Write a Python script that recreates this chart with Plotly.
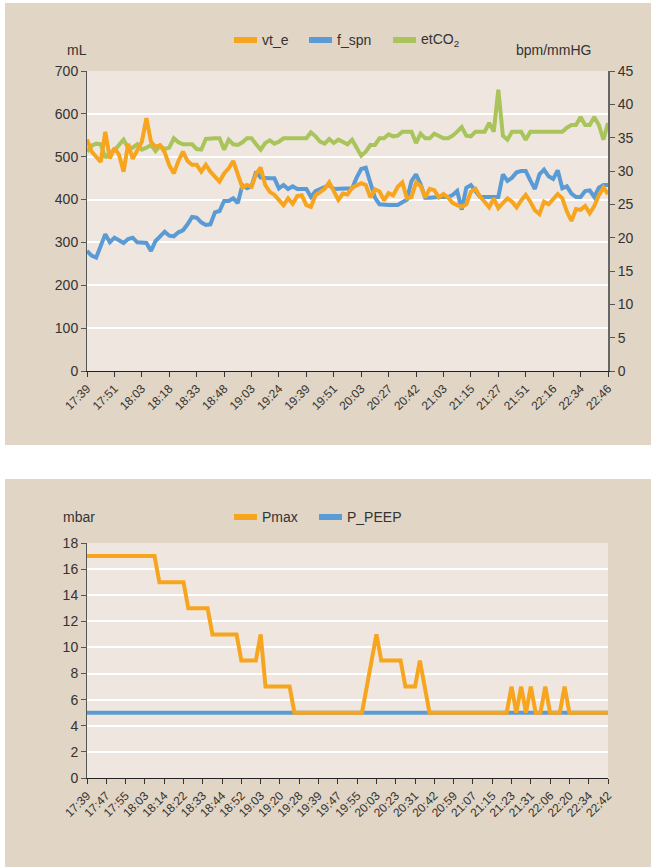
import plotly.graph_objects as go

W, H = 651, 867

# ---------------- data: top chart ----------------
top_tick_labels = ["17:39", "17:51", "18:03", "18:18", "18:33", "18:48", "19:03",
                   "19:24", "19:39", "19:51", "20:03", "20:27", "20:42", "21:03",
                   "21:15", "21:27", "21:51", "22:16", "22:34", "22:46"]
top_label_every = 6

vt_e = [540, 512, 500, 488, 558, 496, 520, 505, 465, 530,
        495, 516, 535, 590, 535, 523, 527, 510, 480, 461,
        490, 512, 490, 481, 481, 465, 481, 465, 452, 442,
        461, 473, 490, 455, 428, 434, 430, 460, 475, 434,
        418, 411, 398, 387, 403, 390, 408, 410, 387, 383,
        410, 418, 425, 440, 420, 399, 414, 412, 428, 434,
        438, 434, 405, 424, 419, 398, 415, 410, 430, 440,
        403, 406, 440, 432, 405, 425, 422, 405, 413, 405,
        392, 387, 383, 389, 418, 425, 407, 395, 382, 403,
        380, 392, 403, 395, 382, 398, 411, 395, 375, 366,
        395, 389, 400, 413, 403, 372, 350, 378, 376, 385,
        368, 385, 410, 428, 413]

f_spn = [18, 17.3, 17, 18.6, 20.5, 19.3, 20, 19.6, 19.2, 19.8,
         20, 19.3, 19.2, 19.2, 18, 19.5, 20.2, 20.9, 20.3, 20.2,
         20.8, 21.1, 22, 23.1, 23, 22.3, 21.9, 22, 23.8, 24,
         25.5, 25.5, 25.9, 25.2, 27.9, 27.4, 27.7, 29.9, 29, 28.9,
         28.9, 28.9, 27.4, 27.9, 27.3, 27.7, 27.3, 27.3, 27.3, 26.1,
         27, 27.3, 27.6, 27.9, 27.3, 27.3, 27.3, 27.3, 27.4, 29,
         30.3, 30.5, 28, 26, 25, 24.9, 24.9, 24.9, 24.9, 25.3,
         25.7, 28.5, 29.5, 28, 26, 26, 26.1, 26.1, 26.1, 26.1,
         26.4, 27, 24.2, 27.5, 27.9, 27, 26.1, 26.1, 26.1, 26.1,
         26.1, 29.5, 28.5, 29, 29.8, 30, 30, 28.6, 27.3, 29.5,
         30.2, 29.2, 28.8, 30.1, 27.4, 27.7, 26.6, 26.1, 26.1, 27,
         27.1, 26.1, 27.5, 27.9, 27.9]

etco2 = [32.9, 33.8, 34.1, 34, 32, 32.8, 33.1, 33.8, 34.7, 33.5,
         33.5, 34, 33.2, 33.5, 33.9, 33, 33.8, 33.3, 33.5, 34.9,
         34.3, 34, 34, 34, 33.3, 33.2, 34.8, 34.9, 34.9, 34.9,
         33.2, 34.7, 34, 33.9, 34.3, 34.9, 34.9, 34, 33.2, 34.2,
         34.6, 34.1, 34.4, 34.9, 34.9, 34.9, 34.9, 34.9, 34.9, 35.8,
         35.2, 34.4, 34.1, 34.8, 34.2, 34.7, 34.4, 34, 34.7, 33.5,
         32.3, 32.9, 33.9, 33.9, 34.9, 34.9, 35.5, 35.2, 35.3, 35.9,
         35.9, 35.9, 34.2, 35.6, 34.9, 34.9, 35.6, 35.2, 34.9, 34.9,
         35.3, 35.9, 36.6, 35.3, 35.2, 35.9, 35.9, 35.9, 37.2, 35.9,
         42.2, 35.3, 34.7, 35.9, 35.9, 35.9, 34.7, 35.9, 35.9, 35.9,
         35.9, 35.9, 35.9, 35.9, 35.9, 36.5, 36.9, 36.9, 38.1, 36.9,
         36.9, 38.1, 36.9, 34.7, 37.2]

# ---------------- data: bottom chart ----------------
bottom_tick_labels = ["17:39", "17:47", "17:55", "18:03", "18:14", "18:22", "18:33",
                      "18:44", "18:52", "19:03", "19:20", "19:28", "19:39", "19:47",
                      "19:55", "20:03", "20:23", "20:31", "20:42", "20:59", "21:07",
                      "21:15", "21:23", "21:31", "22:06", "22:20", "22:34", "22:42"]
bottom_label_every = 4

pmax = [17, 17, 17, 17, 17, 17, 17, 17, 17, 17, 17, 17, 17, 17, 17,
        15, 15, 15, 15, 15, 15,
        13, 13, 13, 13, 13,
        11, 11, 11, 11, 11, 11,
        9, 9, 9, 9,
        11,
        7, 7, 7, 7, 7, 7,
        5, 5, 5, 5, 5, 5, 5, 5, 5, 5, 5, 5, 5, 5, 5,
        7, 9, 11,
        9, 9, 9, 9, 9,
        7, 7, 7,
        9, 7,
        5, 5, 5, 5, 5, 5, 5, 5, 5, 5, 5, 5, 5, 5, 5, 5, 5,
        7, 5, 7, 5, 7, 5, 5, 7, 5, 5, 5, 7,
        5, 5, 5, 5, 5, 5, 5, 5, 5]

p_peep = [5, 5, 5, 5, 5, 5, 5, 5, 5, 5, 5, 5, 5, 5, 5, 5, 5, 5, 5, 5,
          5, 5, 5, 5, 5, 5, 5, 5, 5, 5, 5, 5, 5, 5, 5, 5, 5, 5, 5, 5,
          5, 5, 5, 5, 5, 5, 5, 5, 5, 5, 5, 5, 5, 5, 5, 5, 5, 5, 5, 5,
          5, 5, 5, 5, 5, 5, 5, 5, 5, 5, 5, 5, 5, 5, 5, 5, 5, 5, 5, 5,
          5, 5, 5, 5, 5, 5, 5, 5, 5, 5, 5, 5, 5, 5, 5, 5, 5, 5, 5, 5,
          5, 5, 5, 5, 5, 5, 5, 5, 5]

# ---------------- styling ----------------
ORANGE = "#F7A51F"
BLUE = "#5B9BD5"
GREEN = "#A8C45A"
PANEL = "#E1D5C5"
PLOTBG = "#EFE7DF"
TXT = "#333333"
FONT = "Liberation Sans, Arial, Helvetica, sans-serif"
LW = 4


def px(x):
    return x / W


def py(y):
    return 1 - y / H


x_top = list(range(len(vt_e)))
x_bot = list(range(len(pmax)))

fig = go.Figure()

# anchor trace for the main (left, mL) axis of the top chart: nothing visible
fig.add_trace(go.Scatter(x=[0], y=[0], mode="markers", marker=dict(opacity=0, size=1),
                         hoverinfo="skip", showlegend=False, xaxis="x", yaxis="y"))
# top chart (orange drawn last / on top)
fig.add_trace(go.Scatter(x=x_top, y=etco2, name="etCO2", mode="lines",
                         line=dict(color=GREEN, width=LW), xaxis="x", yaxis="y2"))
fig.add_trace(go.Scatter(x=x_top, y=f_spn, name="f_spn", mode="lines",
                         line=dict(color=BLUE, width=LW), xaxis="x", yaxis="y2"))
fig.add_trace(go.Scatter(x=x_top, y=vt_e, name="vt_e", mode="lines",
                         line=dict(color=ORANGE, width=LW), xaxis="x", yaxis="y3"))

# bottom chart
fig.add_trace(go.Scatter(x=x_bot, y=p_peep, name="P_PEEP", mode="lines",
                         line=dict(color=BLUE, width=LW), xaxis="x2", yaxis="y4"))
fig.add_trace(go.Scatter(x=x_bot, y=pmax, name="Pmax", mode="lines",
                         line=dict(color=ORANGE, width=LW), xaxis="x2", yaxis="y4"))

xdom = [px(87), px(608)]
top_dom = [py(371), py(71)]
bot_dom = [py(778), py(543)]

tickfont_y = dict(size=14, color=TXT, family=FONT)
tickfont_x = dict(size=12, color=TXT, family=FONT)

top_tickvals = [i * top_label_every for i in range(len(top_tick_labels))]
bot_tickvals = [i * bottom_label_every for i in range(len(bottom_tick_labels))]

fig.update_layout(
    width=W, height=H,
    margin=dict(l=0, r=0, t=0, b=0, pad=0, autoexpand=False),
    paper_bgcolor=PANEL,
    plot_bgcolor=PLOTBG,
    showlegend=False,
    font=dict(family=FONT, color=TXT, size=14),
    xaxis=dict(domain=xdom, anchor="y", range=[0, len(vt_e) - 1], automargin=False,
               tickmode="array", tickvals=top_tickvals, ticktext=top_tick_labels,
               tickangle=-45, ticks="outside", ticklen=5, tickcolor="#333",
               showline=True, linecolor="#222", linewidth=1,
               showgrid=False, zeroline=False, tickfont=tickfont_x),
    yaxis=dict(domain=top_dom, anchor="x", range=[0, 700], tick0=0, dtick=100,
               automargin=False,
               showgrid=True, gridcolor="white", gridwidth=2,
               ticks="outside", ticklen=5, tickcolor="#555",
               showline=True, linecolor="#555", linewidth=1,
               zeroline=False, tickfont=tickfont_y),
    yaxis2=dict(domain=top_dom, overlaying="y", side="right", anchor="x",
                range=[0, 45], tick0=0, dtick=5, automargin=False,
                showgrid=False, ticks="outside", ticklen=5, tickcolor="#555",
                showline=True, linecolor="#666", linewidth=2,
                zeroline=False, tickfont=tickfont_y),
    yaxis3=dict(domain=top_dom, overlaying="y", anchor="x", range=[0, 700],
                visible=False, automargin=False),
    xaxis2=dict(domain=xdom, anchor="y4", range=[0, len(pmax) - 1], automargin=False,
                tickmode="array", tickvals=bot_tickvals, ticktext=bottom_tick_labels,
                tickangle=-45, ticks="outside", ticklen=5, tickcolor="#333",
                showline=True, linecolor="#222", linewidth=1,
                showgrid=False, zeroline=False, tickfont=tickfont_x),
    yaxis4=dict(domain=bot_dom, anchor="x2", range=[0, 18], tick0=0, dtick=2,
                automargin=False,
                showgrid=True, gridcolor="white", gridwidth=2,
                ticks="outside", ticklen=5, tickcolor="#555",
                showline=True, linecolor="#555", linewidth=1,
                zeroline=False, tickfont=tickfont_y),
)

shapes = [
    # white page strips around the two beige panels
    dict(type="rect", xref="paper", yref="paper", x0=0, x1=1, y0=py(3), y1=1,
         fillcolor="white", line=dict(width=0), layer="below"),
    dict(type="rect", xref="paper", yref="paper", x0=0, x1=px(5), y0=0, y1=1,
         fillcolor="white", line=dict(width=0), layer="below"),
    dict(type="rect", xref="paper", yref="paper", x0=0, x1=1, y0=py(479), y1=py(445),
         fillcolor="white", line=dict(width=0), layer="below"),
]


def legend_item(x0, yc, color, label):
    shapes.append(dict(type="rect", xref="paper", yref="paper",
                       x0=px(x0), x1=px(x0 + 23), y0=py(yc + 3), y1=py(yc - 3),
                       fillcolor=color, line=dict(width=0)))
    fig.add_annotation(x=px(x0 + 26), y=py(yc), xref="paper", yref="paper",
                       text=label, showarrow=False, xanchor="left", yanchor="middle",
                       font=dict(size=14, color=TXT, family=FONT))


legend_item(234, 40, ORANGE, "vt_e")
legend_item(309, 40, BLUE, "f_spn")
legend_item(393, 40, GREEN, "etCO<sub>2</sub>")
legend_item(234, 517, ORANGE, "Pmax")
legend_item(319, 517, BLUE, "P_PEEP")

fig.add_annotation(x=px(65), y=py(40), xref="paper", yref="paper", text="mL",
                   showarrow=False, font=dict(size=14, color=TXT, family=FONT))
fig.add_annotation(x=px(593), y=py(40), xref="paper", yref="paper", text="bpm/mmHG",
                   showarrow=False, font=dict(size=14, color=TXT, family=FONT))
fig.add_annotation(x=px(61), y=py(517), xref="paper", yref="paper", text="mbar",
                   showarrow=False, font=dict(size=14, color=TXT, family=FONT))

fig.update_layout(shapes=shapes)

fig.write_html("out.html", config={"displayModeBar": False},
               post_script="document.body.style.margin='0';document.body.style.overflow='hidden';")
